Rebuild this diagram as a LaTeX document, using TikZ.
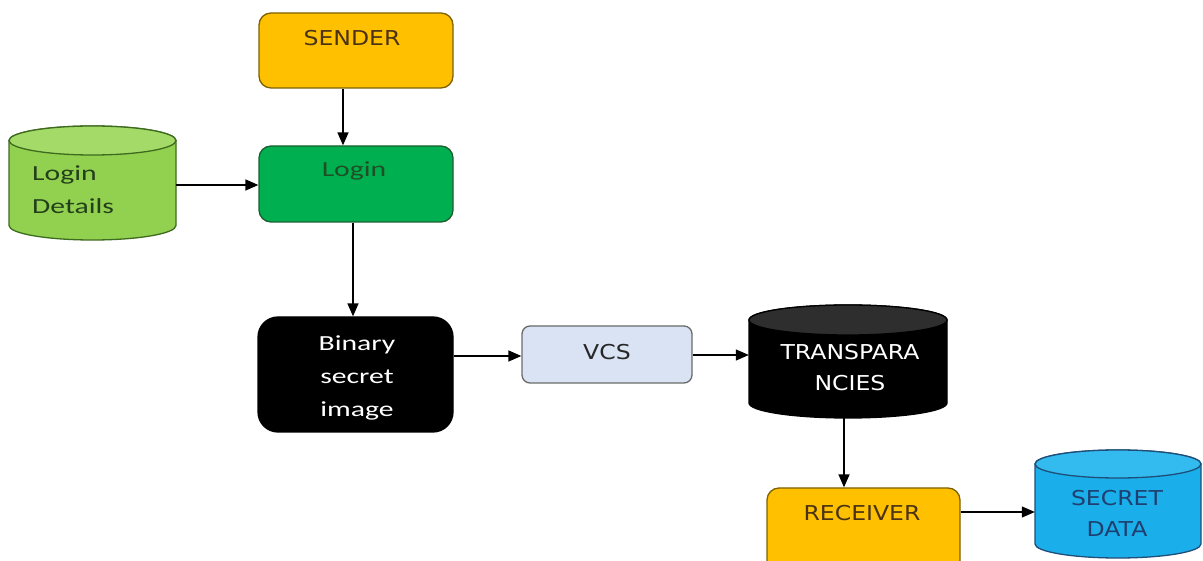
\documentclass[tikz,border=0pt]{standalone}
\usepackage{fontspec}
\newfontfamily\lowfont[FakeStretch=1.38]{Carlito}
\newfontfamily\capfont[FakeStretch=1.15]{DejaVu Sans}
\usetikzlibrary{arrows.meta}
\definecolor{orangefill}{HTML}{FFC000}
\definecolor{orangedraw}{HTML}{7F6000}
\definecolor{browntext}{HTML}{4A3214}
\definecolor{greenfill}{HTML}{00B050}
\definecolor{greendraw}{HTML}{1E5E30}
\definecolor{greentext}{HTML}{1F4F25}
\definecolor{lgreenfill}{HTML}{92D050}
\definecolor{lgreentop}{HTML}{A3DA68}
\definecolor{lgreendraw}{HTML}{3F6B1E}
\definecolor{lgreentext}{HTML}{24401A}
\definecolor{vcsfill}{HTML}{DAE3F3}
\definecolor{vcsdraw}{HTML}{6A6A6A}
\definecolor{bluefill}{HTML}{1AAFEA}
\definecolor{bluetop}{HTML}{33BBF0}
\definecolor{bluedraw}{HTML}{1F4E79}
\definecolor{bluetext}{HTML}{1F3F70}
\definecolor{darktop}{HTML}{2E2E2E}
\tikzset{
  boxnode/.style={rectangle, inner sep=0pt, line width=1.3pt},
  cylarea/.style={rectangle, inner sep=0pt, draw=none},
  arr/.style={line width=1.4pt, -{Triangle[length=13pt,width=11pt]}},
  lowtxt/.style={font=\lowfont\fontsize{21.5}{33}\selectfont, inner sep=0pt},
  captxt/.style={font=\capfont\fontsize{20.5}{31}\selectfont, inner sep=0pt},
}
\begin{document}
\begin{tikzpicture}[x=1pt,y=1pt]
\useasboundingbox (0,0) rectangle (1203,560);
\clip (0,0) rectangle (1203,560);
\fill[white] (0,0) rectangle (1203,560);

% SENDER
\node[boxnode, draw=orangedraw, fill=orangefill, rounded corners=12pt,
  minimum width=194pt, minimum height=75pt] (sender) at (356,509.5) {};
\node[captxt, text=browntext] (senderT) at (352,522) {SENDER};

% Login
\node[boxnode, draw=greendraw, fill=greenfill, rounded corners=12pt,
  minimum width=194pt, minimum height=76pt] (login) at (356,376) {};
\node[lowtxt, text=greentext] (loginT) at (354,389) {Login};

% Login Details cylinder
\filldraw[fill=lgreenfill, draw=lgreendraw, line width=1.3pt]
  (9,419.5) -- (9,334.5) arc[start angle=180, end angle=360, x radius=83.5, y radius=14.5]
  -- (176,419.5) arc[start angle=0, end angle=180, x radius=83.5, y radius=14.5] -- cycle;
\filldraw[fill=lgreentop, draw=lgreendraw, line width=1.3pt]
  (92.5,419.5) ellipse[x radius=83.5, y radius=14.5];
\node[cylarea, minimum width=167pt, minimum height=114pt] (ldet) at (92.5,377) {};
\node[lowtxt, text=lgreentext, anchor=west, align=left] (ldetT) at (32,370) {Login\\Details};

% Binary secret image
\node[boxnode, draw=black, fill=black, rounded corners=20pt,
  minimum width=195pt, minimum height=115pt] (binary) at (355.5,185.5) {};
\node[lowtxt, text=white, align=center] (binaryT) at (357,182) {Binary\\secret\\image};

% VCS
\node[boxnode, draw=vcsdraw, fill=vcsfill, rounded corners=8pt,
  minimum width=170pt, minimum height=57pt] (vcs) at (607,205.5) {};
\node[captxt, text=black!85] (vcsT) at (607,208) {VCS};

% TRANSPARANCIES cylinder
\filldraw[fill=black, draw=black, line width=1.3pt]
  (749,240) -- (749,157) arc[start angle=180, end angle=360, x radius=99, y radius=15]
  -- (947,240) arc[start angle=0, end angle=180, x radius=99, y radius=15] -- cycle;
\filldraw[fill=darktop, draw=black, line width=1.3pt]
  (848,240) ellipse[x radius=99, y radius=15];
\node[cylarea, minimum width=198pt, minimum height=113pt] (trans) at (848,198.5) {};
\node[captxt, text=white, align=center] (transT) at (850,192.5) {TRANSPARA\\NCIES};

% RECEIVER
\node[boxnode, draw=orangedraw, fill=orangefill, rounded corners=12pt,
  minimum width=193pt, minimum height=90pt] (receiver) at (863.5,27) {};
\node[captxt, text=browntext] (receiverT) at (862,47) {RECEIVER};

% SECRET DATA cylinder
\filldraw[fill=bluefill, draw=bluedraw, line width=1.3pt]
  (1035,96) -- (1035,16) arc[start angle=180, end angle=360, x radius=83, y radius=14]
  -- (1201,96) arc[start angle=0, end angle=180, x radius=83, y radius=14] -- cycle;
\filldraw[fill=bluetop, draw=bluedraw, line width=1.3pt]
  (1118,96) ellipse[x radius=83, y radius=14];
\node[cylarea, minimum width=166pt, minimum height=108pt] (secret) at (1118,56) {};
\node[captxt, text=bluetext, align=center] (secretT) at (1117,47) {SECRET\\DATA};

% connectors
\draw[arr] (sender.south -| 343,0) -- (login.north -| 343,0);
\draw[arr] (ldet.east |- 0,375) -- (login.west |- 0,375);
\draw[arr] (login.south -| 353,0) -- (binary.north -| 353,0);
\draw[arr] (binary.east |- 0,204) -- (vcs.west |- 0,204);
\draw[arr] (vcs.east |- 0,205) -- (trans.west |- 0,205);
\draw[arr] (trans.south -| 844,0) -- (receiver.north -| 844,0);
\draw[arr] (receiver.east |- 0,48) -- (secret.west |- 0,48);
\end{tikzpicture}
\end{document}
